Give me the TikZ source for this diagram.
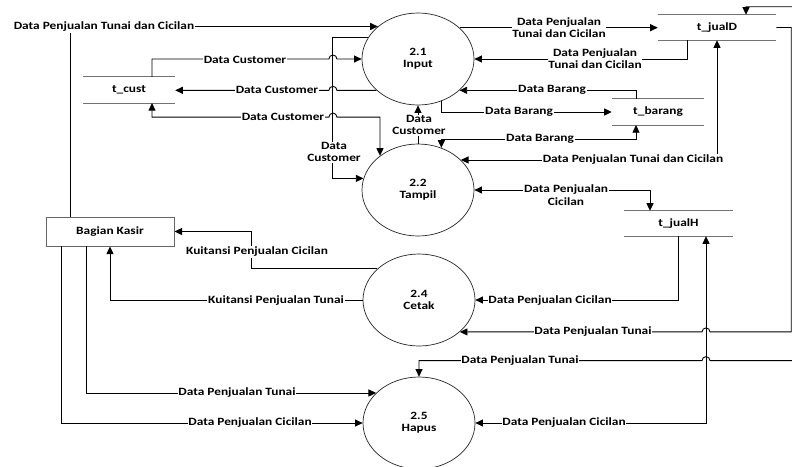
\documentclass[tikz,border=0pt]{standalone}
\usepackage{fontspec}
\usetikzlibrary{arrows.meta,shapes.geometric,calc}
\newfontfamily\lblfont{Carlito}[FakeStretch=1.2]
\newcommand\lbl{\lblfont\bfseries\fontsize{9.5}{10.5}\selectfont}
\tikzset{
  proc/.style={ellipse, draw=black!85, line width=0.6pt, minimum width=3.36cm, minimum height=2.76cm, inner sep=0pt, align=center, font=\lbl},
  store/.style={minimum width=2.76cm, minimum height=0.77cm, inner sep=0pt, font=\lbl},
  storeline/.style={draw=black!55, line width=0.8pt},
  ext/.style={draw=black!60, line width=0.8pt, minimum width=3.84cm, minimum height=0.87cm, inner sep=0pt, font=\lbl},
  flow/.style={draw=black, line width=0.75pt, -{Triangle[length=6.5pt,width=6pt]}},
  flowtwo/.style={draw=black, line width=0.75pt, {Triangle[length=6.5pt,width=6pt]}-{Triangle[length=6.5pt,width=6pt]}},
  lab/.style={fill=white, inner sep=0.6pt, font=\lbl, align=center},
}
\begin{document}
\begin{tikzpicture}[x=0.03cm, y=-0.03cm]
\useasboundingbox (0,0) rectangle (792,466);
% processes
\node[proc] (c21) at (418,59) {2.1\\Input};
\node[proc] (c22) at (418,190) {2.2\\Tampil};
\node[proc] (c24) at (419,300) {2.4\\Cetak};
\node[proc] (c25) at (419,423) {2.5\\Hapus};
% stores
\node[store] (tcust) at (129,90) {t\_cust};
\node[store, minimum width=3.54cm, minimum height=0.75cm] (tjualD) at (717,27.5) {t\_jualD};
\node[store] (tbarang) at (658,112) {t\_barang};
\node[store, minimum width=3.27cm, minimum height=0.75cm] (tjualH) at (678.5,223.5) {t\_jualH};
\foreach \s in {tcust,tjualD,tbarang,tjualH}
  \draw[storeline] (\s.north west) -- (\s.north east) (\s.south west) -- (\s.south east);
% external entity
\node[ext] (kasir) at (110,231.5) {Bagian Kasir};
% helper coordinates for line crossings
\coordinate (vx) at ($(c21.157)+(-35,0)$);
\coordinate (hx) at ($(tjualH.south)+(27.5,0)$);

% F1
\draw[flow] ($(kasir.north)+(-40,0)$) |- (c21.141);
\node[lab] (l1) at (104,27) {Data Penjualan Tunai dan Cicilan};
% F2
\draw[flow] ($(tcust.north)+(23,0)$) |- ($(vx |- c21.west)+(-4,0)$) arc[start angle=180,end angle=360,radius=4] -- (c21.west);
\node[lab] (l2) at (245,60) {Data Customer};
% F3
\draw[flow] (c21.217) -- ($(vx |- c21.217)+(4,0)$) arc[start angle=0,end angle=-180,radius=4] -- (c21.217 -| tcust.east);
\node[lab] (l3) at (277,90) {Data Customer};
% F4
\draw[flowtwo] ($(tcust.south)+(23,0)$) -- ++(0,14) -- ($(vx |- tcust.south)+(-4,14)$) arc[start angle=180,end angle=360,radius=4] -| (c22.138);
\node[lab] (l4) at (283,117) {Data Customer};
% F5
\draw[flow] (c21.157) -| (vx |- c22.168) -- (c22.168);
\node[lab] (l5) at (334,152) {Data\\Customer};
% F6
\draw[flow] (c22.north) -- (c21.south);
\node[lab] (l6) at (419,125) {Data\\Customer};
% F7
\draw[flow] (c21.37) -- (c21.37 -| tjualD.west);
\node[lab] (l7) at (559,27.5) {Data Penjualan\\Tunai dan Cicilan};
% F8
\draw[flow] ($(tjualD.south)+(-30,0)$) |- (c21.east);
\node[lab] (l8) at (595,58.5) {Data Penjualan\\Tunai dan Cicilan};
% F9
\draw[flow] ($(tbarang.north)+(-22,0)$) |- (c21.323);
\node[lab] (l9) at (552,90) {Data Barang};
% F10
\draw[flow] (c21.299) |- (tbarang.west);
\node[lab] (l10) at (519,112) {Data Barang};
% F11
\draw[flowtwo] ($(tbarang.south)+(-22,0)$) -- ++(0,14) -| (c22.61);
\node[lab] (l11) at (540,139) {Data Barang};
% F12
\draw[flowtwo] (tjualD.south) |- (c22.35);
\node[lab] (l12) at (633,160) {Data Penjualan Tunai dan Cicilan};
% F13
\draw[flowtwo] (c22.east) -| ($(tjualH.north)+(-28.5,0)$);
\node[lab] (l13) at (566,195) {Data Penjualan\\Cicilan};
% F14
\draw[flow] (c24.143) -| ($(kasir.east)+(77,0)$) -- (kasir.east);
\node[lab] (l14) at (257,252) {Kuitansi Penjualan Cicilan};
% F15
\draw[flow] (c24.west) -| (kasir.south);
\node[lab] (l15) at (276,301) {Kuitansi Penjualan Tunai};
% F16
\draw[flow] ($(kasir.south)+(-24,0)$) |- (c25.145);
\node[lab] (l16) at (237,393) {Data Penjualan Tunai};
% F17
\draw[flow] ($(kasir.south)+(-49,0)$) |- (c25.west);
\node[lab] (l17) at (250,423) {Data Penjualan Cicilan};
% F18
\draw[flow] (tjualH.south) |- (c24.east);
\node[lab] (l18) at (550,301) {Data Penjualan Cicilan};
% F19
\draw[flow] (tjualD.east) -- ++(15,0) |- ($(hx |- c24.322)+(4,0)$) arc[start angle=0,end angle=-180,radius=4] -- (c24.322);
\node[lab] (l19) at (593,332) {Data Penjualan Tunai};
% F20
\draw[flowtwo] ($(tjualD.north)+(29,0)$) -- ++(0,-8) -- ++(60,0) |- ($(hx |- c25.north)+(4,-16)$) arc[start angle=0,end angle=-180,radius=4] -| (c25.north);
\node[lab] (l20) at (520,361) {Data Penjualan Tunai};
% F21
\draw[flowtwo] (hx) |- (c25.east);
\node[lab] (l21) at (564,423) {Data Penjualan Cicilan};
\end{tikzpicture}
\end{document}
